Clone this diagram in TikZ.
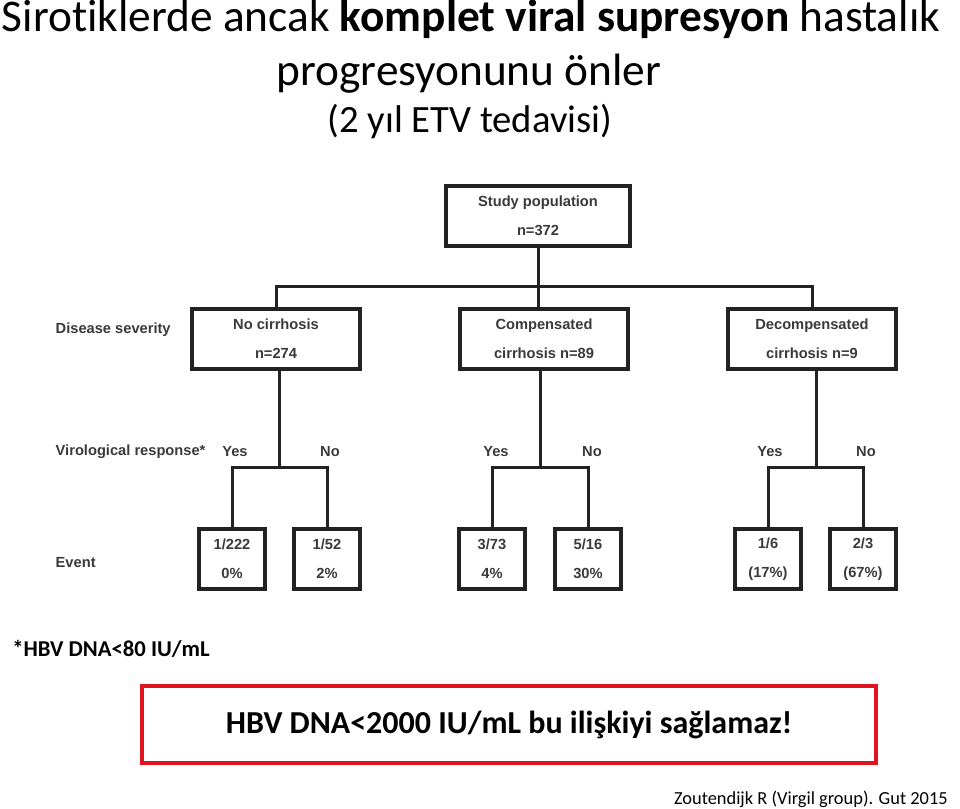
\documentclass[tikz,border=0pt]{standalone}
\usepackage{fontspec}
\setmainfont{Carlito}[Ligatures=NoCommon]
\newfontfamily\arialfont{Liberation Sans}
\usetikzlibrary{positioning}
\usetikzlibrary{calc}
\definecolor{boxline}{HTML}{222222}
\definecolor{boxtext}{HTML}{3A3A3A}
\definecolor{alertred}{HTML}{E0141E}

\begin{document}
\begin{tikzpicture}[
        x=0.75pt, y=-0.75pt,
        node distance=25pt,
        flowbox/.style={draw=boxline, line width=3pt, fill=white,
                    align=center, text=boxtext, inner sep=0pt,
                    font=\arialfont\bfseries\fontsize{11}{21.5}\selectfont},
        bigbox/.style={flowbox, minimum width=126pt, minimum height=45pt},
        eventbox/.style={flowbox, minimum width=49.5pt, minimum height=45pt},
        rowlabel/.style={anchor=west, text=boxtext,
                    font=\arialfont\bfseries\fontsize{11}{13}\selectfont},
        answer/.style={text=boxtext,
                    font=\arialfont\bfseries\fontsize{11}{13}\selectfont},
        tree/.style={draw=boxline, line width=2.25pt},
        titletext/.style={anchor=base, inner sep=0pt, font=\fontsize{34}{40}\selectfont}
    ]
    \useasboundingbox (0,0) rectangle (960,809);

    % ------- title -------
    \node[titletext] (t1) at (471,32)
        {Sirotiklerde ancak \textbf{komplet viral supresyon} hastalık};
    \node[titletext] (t2) at (469,86) {progresyonunu önler};
    \node[titletext, font=\fontsize{29}{34}\selectfont] (t3) at (470,133)
        {(2 yıl ETV tedavisi)};

    % ------- study population and disease severity -------
    \node[flowbox, minimum width=138pt, minimum height=45pt] (study) at (538,216)
        {Study population \\ n=372};
    \node[bigbox] (nocir) at (276,339) {No cirrhosis \\ n=274};
    \node[bigbox] (comp) at (544,339) {Compensated \\ cirrhosis n=89};
    \node[bigbox] (decomp) at (812,339) {Decompensated \\ cirrhosis n=9};

    \coordinate (split) at (538,287);
    \draw[tree] (study.south) -- (split);
    \draw[tree] (nocir.north) |- (split) -| (decomp.north);
    \draw[tree] (split) -- (split |- comp.north);

    % ------- events -------
    \node[eventbox] (e1) at (232,559) {1/222 \\ 0\%};
    \node[eventbox] (e2) at (327,559) {1/52 \\ 2\%};
    \node[eventbox] (e3) at (492,559) {3/73 \\ 4\%};
    \node[eventbox] (e4) at (588,559) {5/16 \\ 30\%};
    \node[eventbox] (e5) at (768,559) {1/6 \\ (17\%)};
    \node[eventbox] (e6) at (863,559) {2/3 \\ (67\%)};

    \coordinate (b1) at (279,467);
    \coordinate (b2) at (540,467);
    \coordinate (b3) at (816,467);
    \draw[tree] (nocir.south -| b1) -- (b1);
    \draw[tree] (comp.south -| b2) -- (b2);
    \draw[tree] (decomp.south -| b3) -- (b3);
    \draw[tree] (e1.north) |- (b1) -| (e2.north);
    \draw[tree] (e3.north) |- (b2) -| (e4.north);
    \draw[tree] (e5.north) |- (b3) -| (e6.north);

    \node[answer] (y1) at (235,452) {Yes};
    \node[answer] (n1) at (330,452) {No};
    \node[answer] (y2) at (496,452) {Yes};
    \node[answer] (n2) at (592,452) {No};
    \node[answer] (y3) at (770,452) {Yes};
    \node[answer] (n3) at (866,452) {No};

    % row labels on the left
    \node[rowlabel] (lsev) at (51,330) {Disease severity};
    \node[rowlabel] (lvir) at (51,452) {Virological response*};
    \node[rowlabel] (levt) at (51,563) {Event};

    % ------- footnote, remark, source -------
    \node[anchor=base west, inner sep=0pt, font=\bfseries\fontsize{17}{20}\selectfont] (fn)
        at (12,656) {*HBV DNA<80 IU/mL};
    \node[draw=alertred, line width=3pt, minimum width=550.5pt, minimum height=57.75pt,
          font=\bfseries\fontsize{24}{28}\selectfont] (remark) at (509,724.5)
        {HBV DNA<2000 IU/mL bu ilişkiyi sağlamaz!};
    \node[anchor=base east, inner sep=0pt, font=\fontsize{13.8}{17}\selectfont] (src)
        at (948,804) {Zoutendijk R (Virgil group). Gut 2015};

\end{tikzpicture}
\end{document}
